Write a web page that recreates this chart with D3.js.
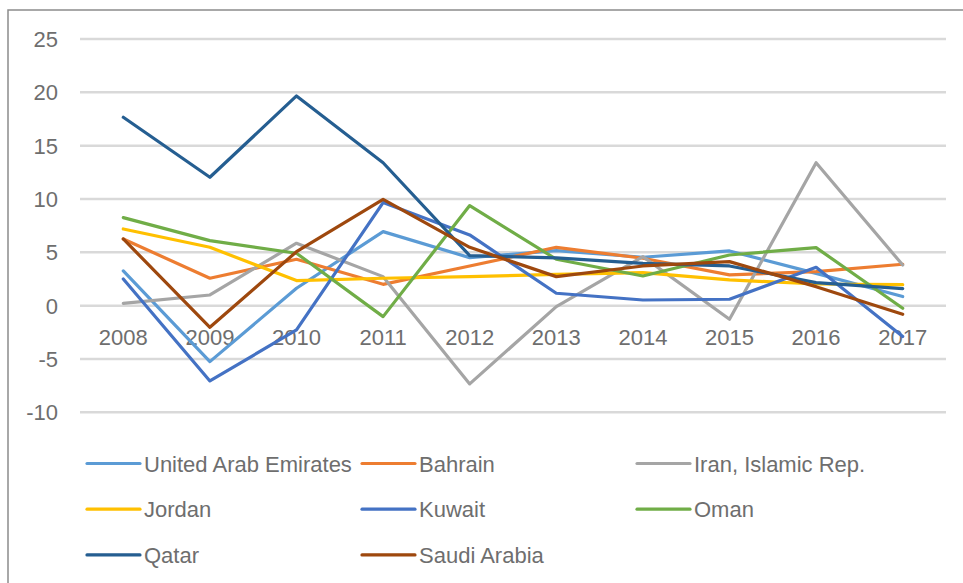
<!DOCTYPE html>
<html>
<head>
<meta charset="utf-8">
<script src="https://cdn.jsdelivr.net/npm/d3@7"></script>
<style>
  html, body { margin: 0; padding: 0; background: #fff; }
  svg text { font-family: "Liberation Sans", Arial, sans-serif; fill: #6e6e6e; }
</style>
</head>
<body>
<svg id="chart" width="963" height="583"></svg>
<script>
// years on the x axis
var years = ["2008", "2009", "2010", "2011", "2012", "2013", "2014", "2015", "2016", "2017"];
var yTicks = [-10, -5, 0, 5, 10, 15, 20, 25];

// values, one array per country
var uae     = [3.25, -5.25, 1.63, 6.94, 4.5, 5.16, 4.54, 5.13, 3.03, 0.85];
var bahrain = [6.25, 2.57, 4.35, 2.0, 3.72, 5.47, 4.44, 2.88, 3.19, 3.88];
var iran    = [0.22, 1.0, 5.85, 2.72, -7.34, -0.09, 4.6, -1.28, 13.4, 3.81];
var jordan  = [7.19, 5.47, 2.35, 2.57, 2.72, 2.94, 3.1, 2.41, 2.03, 1.97];
var kuwait  = [2.5, -7.06, -2.28, 9.66, 6.63, 1.16, 0.53, 0.6, 3.6, -2.9];
var oman    = [8.25, 6.1, 4.91, -1.03, 9.38, 4.35, 2.78, 4.75, 5.44, -0.25];
var qatar   = [17.66, 12.04, 19.66, 13.4, 4.69, 4.47, 3.97, 3.72, 2.16, 1.6];
var saudi   = [6.25, -2.03, 5.06, 9.97, 5.47, 2.72, 3.72, 4.13, 1.78, -0.81];

var seriesNames = ["United Arab Emirates", "Bahrain", "Iran, Islamic Rep.", "Jordan",
                   "Kuwait", "Oman", "Qatar", "Saudi Arabia"];
var seriesValues = [uae, bahrain, iran, jordan, kuwait, oman, qatar, saudi];
var seriesColors = ["#5b9bd5", "#ed7d31", "#a5a5a5", "#ffc000",
                    "#4472c4", "#70ad47", "#255e91", "#9e480e"];

var svg = d3.select("#chart");

// frame (only top and left edges show in the picture)
svg.append("rect")
    .attr("x", 8).attr("y", 10)
    .attr("width", 1000).attr("height", 600)
    .attr("fill", "none")
    .attr("stroke", "#8c8c8c")
    .attr("stroke-width", 1.5);

var x = d3.scaleBand().domain(years).range([80, 946]);
var y = d3.scaleLinear().domain([-10, 25]).range([412.3, 39]);
var xc = function (d) { return x(d) + x.bandwidth() / 2; };

// horizontal gridlines
svg.append("g").selectAll("line")
    .data(yTicks)
    .enter().append("line")
    .attr("x1", 80).attr("x2", 946)
    .attr("y1", function (d) { return y(d); })
    .attr("y2", function (d) { return y(d); })
    .attr("stroke", "#d9d9d9")
    .attr("stroke-width", 2.5);

// y labels
svg.append("g").selectAll("text")
    .data(yTicks)
    .enter().append("text")
    .attr("x", 58)
    .attr("y", function (d) { return y(d) + 8; })
    .attr("text-anchor", "end")
    .attr("font-size", "22px")
    .text(function (d) { return d; });

// x labels sit just below the zero line
svg.append("g").selectAll("text")
    .data(years)
    .enter().append("text")
    .attr("x", xc)
    .attr("y", y(0) + 39)
    .attr("text-anchor", "middle")
    .attr("font-size", "22px")
    .text(function (d) { return d; });

// the lines
var line = d3.line()
    .x(function (d, i) { return xc(years[i]); })
    .y(function (d) { return y(d); });

svg.append("g").selectAll("path")
    .data(seriesValues)
    .enter().append("path")
    .attr("d", line)
    .attr("fill", "none")
    .attr("stroke", function (d, i) { return seriesColors[i]; })
    .attr("stroke-width", 3.2)
    .attr("stroke-linejoin", "round")
    .attr("stroke-linecap", "round");

// legend, three columns
var legend = svg.append("g").selectAll("g")
    .data(seriesNames)
    .enter().append("g")
    .attr("transform", function (d, i) {
        return "translate(" + (87 + (i % 3) * 275) + "," + (463.5 + Math.floor(i / 3) * 45.7) + ")";
    });

legend.append("line")
    .attr("x1", 0).attr("x2", 53)
    .attr("stroke", function (d, i) { return seriesColors[i]; })
    .attr("stroke-width", 3.2)
    .attr("stroke-linecap", "round");

legend.append("text")
    .attr("x", 57)
    .attr("y", 8)
    .attr("font-size", "22px")
    .text(function (d) { return d; });
</script>
</body>
</html>
